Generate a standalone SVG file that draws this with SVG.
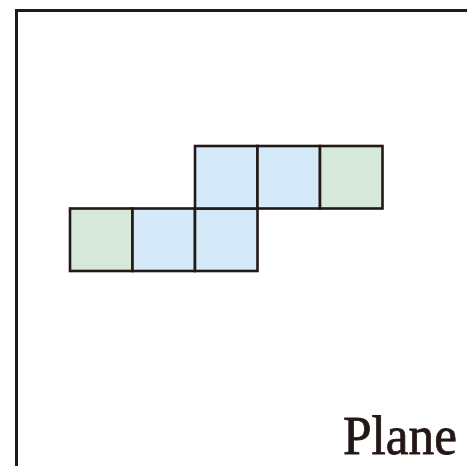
<svg xmlns="http://www.w3.org/2000/svg" width="467" height="466" viewBox="0 0 467 466">
<style>
.frame{fill:none;stroke:#231815;stroke-width:3}
.cell{stroke:#231815;stroke-width:2.6}
.blue{fill:#d4eaf8}
.green{fill:#d5e8d9}
.lbl{font-family:"Liberation Serif",serif;font-size:55px;fill:#231815;stroke:#231815;stroke-width:0.8}
</style>
<rect width="467" height="466" fill="#fff"/>
<g id="frame"><path class="frame" d="M16.5 466 V10.5 H467"/></g>
<g id="cells">
<g id="c1"><rect class="cell green" x="70" y="208.5" width="62.5" height="62.5"/></g>
<g id="c2"><rect class="cell blue" x="132.5" y="208.5" width="62.5" height="62.5"/></g>
<g id="c3"><rect class="cell blue" x="195" y="208.5" width="62.5" height="62.5"/></g>
<g id="c4"><rect class="cell blue" x="195" y="146" width="62.5" height="62.5"/></g>
<g id="c5"><rect class="cell blue" x="257.5" y="146" width="62.5" height="62.5"/></g>
<g id="c6"><rect class="cell green" x="320" y="146" width="62.5" height="62.5"/></g>
</g>
<g id="label"><text class="lbl" x="343" y="453.5" textLength="114" lengthAdjust="spacingAndGlyphs">Plane</text></g>
</svg>
